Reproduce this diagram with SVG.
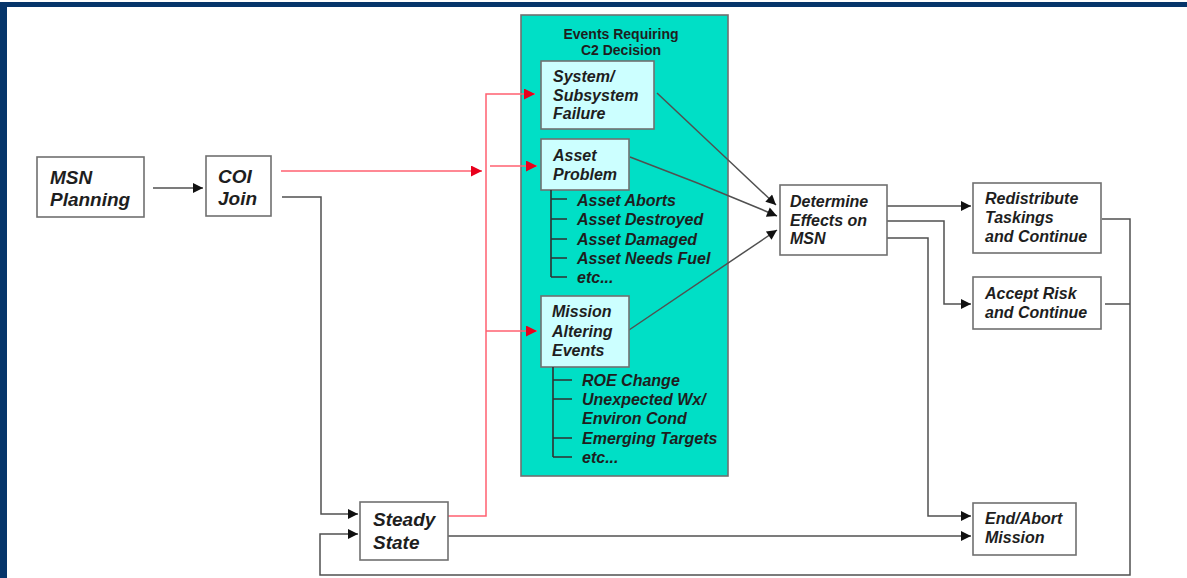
<svg xmlns="http://www.w3.org/2000/svg" width="1187" height="578" viewBox="0 0 1187 578">
<style>
.box{fill:#fff;stroke:#707070;stroke-width:1.6}
.sub{fill:#ccffff;stroke:#707070;stroke-width:1.6}
.lbl{font-family:"Liberation Sans",Arial,sans-serif;font-weight:bold;font-style:italic;font-size:16px;fill:#1e1e1e}
.big{font-size:19px}
.ttl{font-family:"Liberation Sans",Arial,sans-serif;font-weight:bold;font-size:14px;fill:#1e1e1e;text-anchor:middle}
.ln{fill:none;stroke:#505050;stroke-width:1.5}
.red{fill:none;stroke:#ff6070;stroke-width:1.5}
.tree{fill:none;stroke:#303030;stroke-width:1.6}
</style>
<defs>
<marker id="ab" viewBox="0 0 10 10" refX="10" refY="5" markerWidth="12" markerHeight="10" markerUnits="userSpaceOnUse" orient="auto"><path d="M0,0 L10,5 L0,10 z" fill="#111"/></marker>
<marker id="ar" viewBox="0 0 10 10" refX="10" refY="5" markerWidth="13" markerHeight="11" markerUnits="userSpaceOnUse" orient="auto"><path d="M0,0 L10,5 L0,10 z" fill="#e8001c"/></marker>
</defs>
<rect width="1187" height="578" fill="#fff"/>
<rect x="0" y="2" width="1187" height="5" fill="#06356a"/>
<rect x="0" y="2" width="7" height="576" fill="#06356a"/>

<g id="container">
<rect x="521" y="15" width="207" height="461" fill="#00dfc6" stroke="#707070" stroke-width="1.6"/>
<text class="ttl" x="621" y="39">Events Requiring</text>
<text class="ttl" x="621" y="55">C2 Decision</text>
</g>

<g id="connectors">
<line class="ln" x1="153" y1="188" x2="203" y2="188" marker-end="url(#ab)"/>
<line class="red" x1="281" y1="171" x2="482" y2="171" marker-end="url(#ar)"/>
<polyline class="red" points="448,516 486,516 486,94 535,94" marker-end="url(#ar)"/>
<line class="red" x1="490" y1="166" x2="537" y2="166" marker-end="url(#ar)"/>
<line class="red" x1="486" y1="331" x2="537" y2="331" marker-end="url(#ar)"/>
<polyline class="ln" points="282,197 321,197 321,514 358,514" marker-end="url(#ab)"/>
<line class="ln" x1="657" y1="93" x2="776" y2="205" marker-end="url(#ab)"/>
<path class="ln" d="M630,157 Q705,185 777,216" marker-end="url(#ab)"/>
<line class="ln" x1="629" y1="330" x2="777" y2="230" marker-end="url(#ab)"/>
<line class="ln" x1="887" y1="206" x2="971" y2="206" marker-end="url(#ab)"/>
<polyline class="ln" points="887,221 944,221 944,304 971,304" marker-end="url(#ab)"/>
<polyline class="ln" points="887,238 928,238 928,516 971,516" marker-end="url(#ab)"/>
<line class="ln" x1="448" y1="536" x2="971" y2="536" marker-end="url(#ab)"/>
<polyline class="ln" points="1102,219 1130,219 1130,575 320,575 320,534 358,534" marker-end="url(#ab)" stroke="#888" stroke-width="2"/>
<line class="ln" x1="1105" y1="304" x2="1130" y2="304" stroke="#888" stroke-width="2"/>
</g>

<g id="msn-planning">
<rect class="box" x="37" y="157" width="107" height="60"/>
<text class="lbl big" x="50" y="184">MSN</text>
<text class="lbl big" x="50" y="206">Planning</text>
</g>

<g id="coi-join">
<rect class="box" x="206" y="156" width="65" height="60"/>
<text class="lbl big" x="218" y="183">COI</text>
<text class="lbl big" x="218" y="205">Join</text>
</g>

<g id="system-failure">
<rect class="sub" x="541" y="61" width="113" height="68"/>
<text class="lbl" x="553" y="82">System/</text>
<text class="lbl" x="553" y="101">Subsystem</text>
<text class="lbl" x="553" y="119">Failure</text>
</g>

<g id="asset-problem">
<rect class="sub" x="541" y="139" width="88" height="51"/>
<text class="lbl" x="553" y="161">Asset</text>
<text class="lbl" x="553" y="180">Problem</text>
<path class="tree" d="M551,190 V277 M551,199 H567 M551,219 H567 M551,239 H567 M551,258 H567 M551,277 H567"/>
<text class="lbl" x="577" y="206">Asset Aborts</text>
<text class="lbl" x="577" y="225">Asset Destroyed</text>
<text class="lbl" x="577" y="245">Asset Damaged</text>
<text class="lbl" x="577" y="264">Asset Needs Fuel</text>
<text class="lbl" x="577" y="283">etc...</text>
</g>

<g id="mission-altering">
<rect class="sub" x="541" y="296" width="88" height="71"/>
<text class="lbl" x="552" y="317">Mission</text>
<text class="lbl" x="552" y="337">Altering</text>
<text class="lbl" x="552" y="356">Events</text>
<path class="tree" d="M553,367 V457 M553,380 H572 M553,399 H572 M553,438 H572 M553,457 H572"/>
<text class="lbl" x="582" y="386">ROE Change</text>
<text class="lbl" x="582" y="405">Unexpected Wx/</text>
<text class="lbl" x="582" y="424">Environ Cond</text>
<text class="lbl" x="582" y="444">Emerging Targets</text>
<text class="lbl" x="582" y="463">etc...</text>
</g>

<g id="determine-effects">
<rect class="box" x="780" y="185" width="107" height="70"/>
<text class="lbl" x="790" y="207">Determine</text>
<text class="lbl" x="790" y="226">Effects on</text>
<text class="lbl" x="790" y="244">MSN</text>
</g>

<g id="redistribute">
<rect class="box" x="973" y="183" width="128" height="70"/>
<text class="lbl" x="985" y="204">Redistribute</text>
<text class="lbl" x="985" y="223">Taskings</text>
<text class="lbl" x="985" y="242">and Continue</text>
</g>

<g id="accept-risk">
<rect class="box" x="973" y="277" width="128" height="52"/>
<text class="lbl" x="985" y="299">Accept Risk</text>
<text class="lbl" x="985" y="318">and Continue</text>
</g>

<g id="steady-state">
<rect class="box" x="360" y="502" width="88" height="58"/>
<text class="lbl big" x="373" y="526">Steady</text>
<text class="lbl big" x="373" y="549">State</text>
</g>

<g id="end-abort">
<rect class="box" x="973" y="503" width="103" height="52"/>
<text class="lbl" x="985" y="524">End/Abort</text>
<text class="lbl" x="985" y="543">Mission</text>
</g>
</svg>
